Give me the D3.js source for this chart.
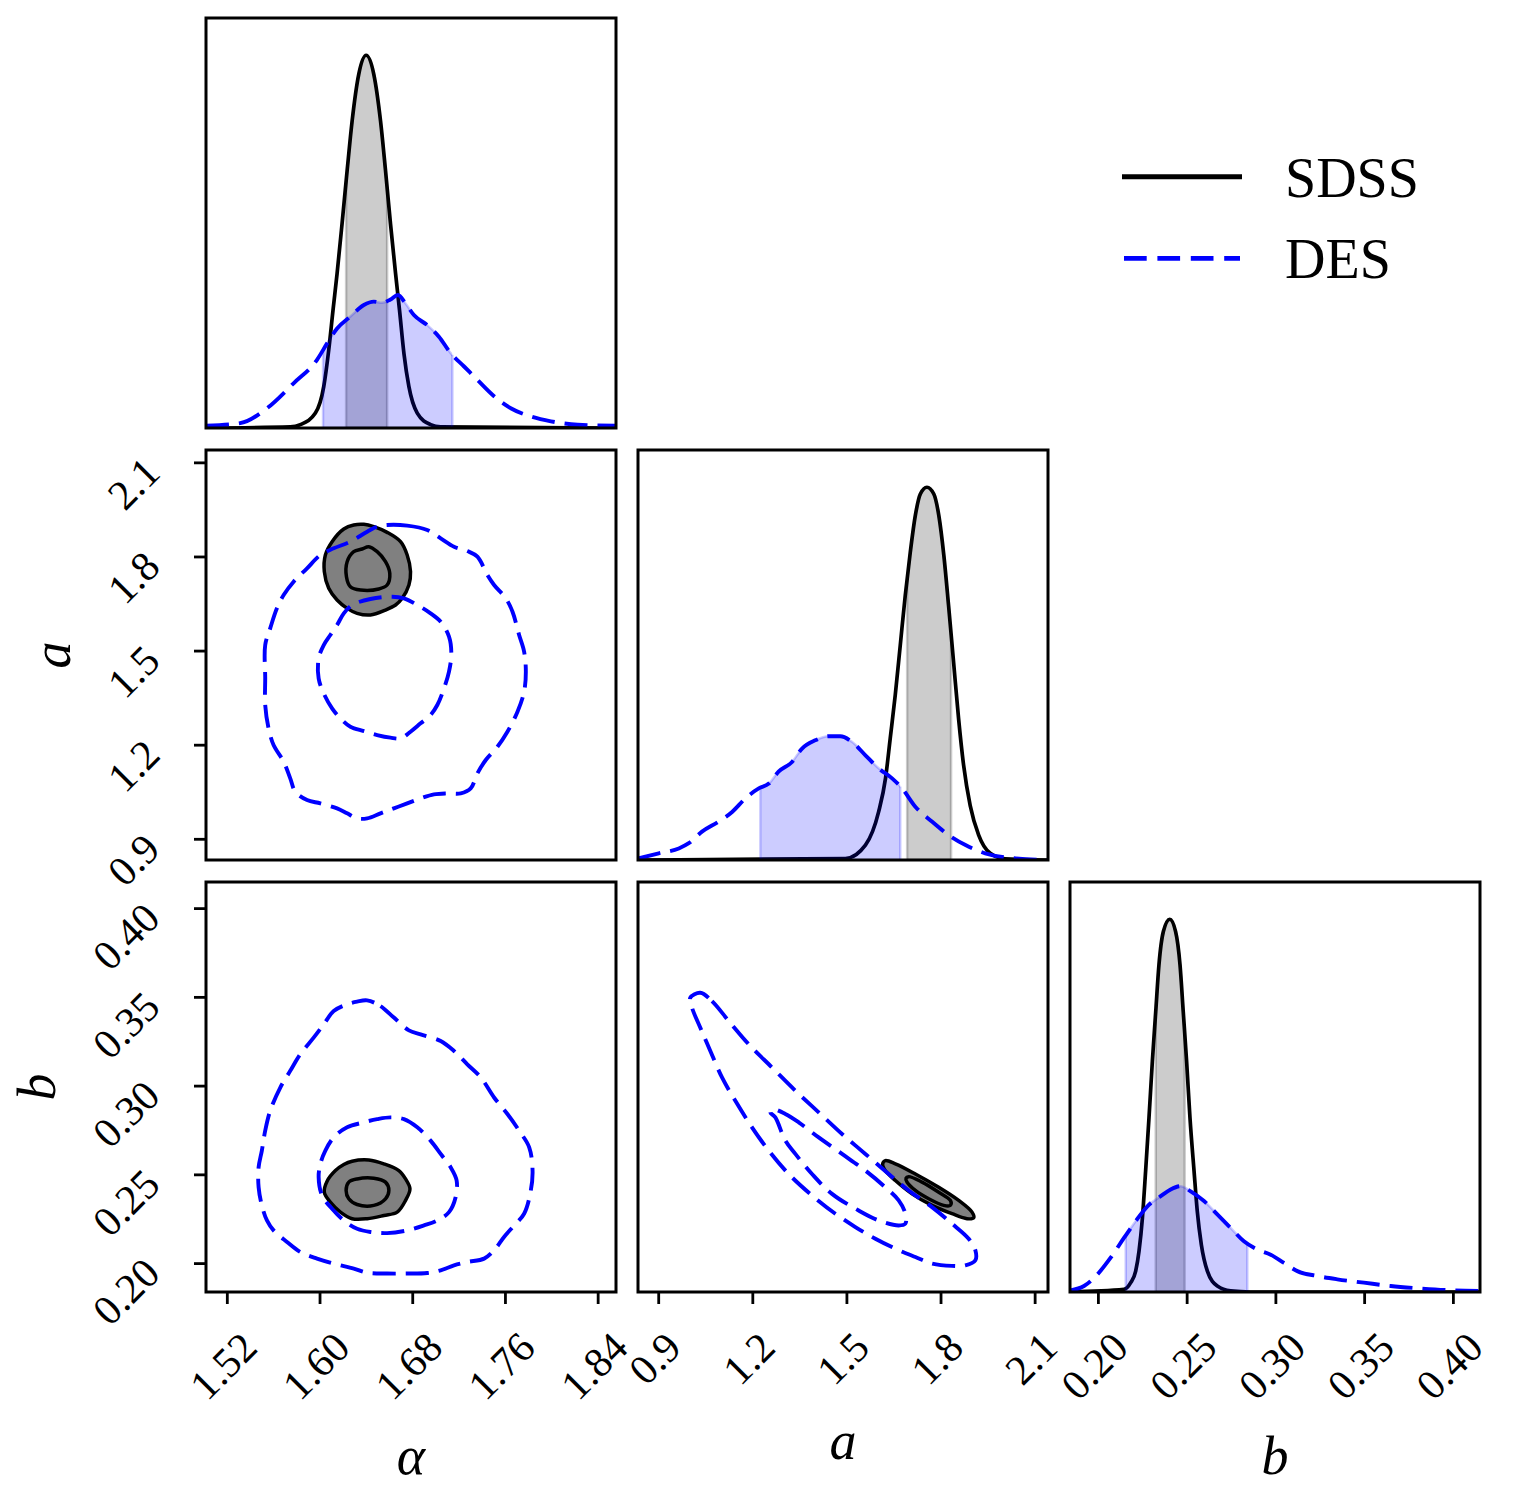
<!DOCTYPE html>
<html>
<head>
<meta charset="utf-8">
<script src="https://cdn.jsdelivr.net/npm/d3@7"></script>
<style>
  body { margin: 0; background: #fff; }
</style>
</head>
<body>
<svg id="corner"></svg>
<script>
// parameter ranges and ticks
var paramNames = ["α", "a", "b"];
var alphaRange = [1.5016, 1.8554];
var aRange = [0.834, 2.141];
var bRange = [0.184, 0.415];
var alphaTicks = [1.52, 1.60, 1.68, 1.76, 1.84];
var aTicks = [0.9, 1.2, 1.5, 1.8, 2.1];
var bTicks = [0.20, 0.25, 0.30, 0.35, 0.40];
var alphaTickLabels = ["1.52", "1.60", "1.68", "1.76", "1.84"];
var aTickLabels = ["0.9", "1.2", "1.5", "1.8", "2.1"];
var bTickLabels = ["0.20", "0.25", "0.30", "0.35", "0.40"];
var legendLabels = ["SDSS", "DES"];

// 1D marginals: [value, density relative to SDSS peak]
var sdssAlpha = [[1.5016,0],[1.5743,0.003],[1.5830,0.009],[1.5960,0.040],[1.6032,0.111],[1.6075,0.209],[1.6112,0.316],[1.6147,0.414],[1.6190,0.548],[1.6234,0.691],[1.6277,0.824],[1.6334,0.949],[1.6398,1.0],[1.6464,0.949],[1.6522,0.824],[1.6565,0.691],[1.6608,0.548],[1.6652,0.414],[1.6686,0.316],[1.6724,0.200],[1.6767,0.111],[1.6839,0.040],[1.6954,0.009],[1.7041,0.003],[1.8554,0]];
var desAlpha = [[1.5016,0.006],[1.5311,0.013],[1.5542,0.053],[1.5772,0.120],[1.5974,0.183],[1.6061,0.227],[1.6147,0.267],[1.6262,0.299],[1.6378,0.330],[1.6464,0.339],[1.6536,0.336],[1.6608,0.345],[1.6672,0.357],[1.6738,0.334],[1.6810,0.303],[1.6925,0.276],[1.7026,0.245],[1.7127,0.201],[1.7243,0.165],[1.7358,0.129],[1.7502,0.085],[1.7646,0.053],[1.7819,0.031],[1.7992,0.018],[1.8223,0.009],[1.8554,0.006]];
var sdssA = [[0.834,0],[1.495,0.004],[1.559,0.040],[1.601,0.129],[1.623,0.219],[1.638,0.326],[1.654,0.442],[1.670,0.576],[1.686,0.710],[1.702,0.826],[1.718,0.924],[1.734,0.982],[1.755,1.0],[1.777,0.982],[1.793,0.924],[1.809,0.817],[1.824,0.683],[1.840,0.531],[1.856,0.379],[1.872,0.254],[1.893,0.146],[1.920,0.067],[1.957,0.018],[2.005,0.003],[2.141,0]];
var desA = [[0.834,0.004],[0.900,0.018],[0.964,0.031],[0.996,0.045],[1.038,0.076],[1.091,0.103],[1.134,0.129],[1.176,0.165],[1.219,0.192],[1.251,0.205],[1.282,0.237],[1.325,0.263],[1.357,0.299],[1.399,0.321],[1.442,0.332],[1.479,0.332],[1.516,0.317],[1.559,0.281],[1.601,0.246],[1.644,0.219],[1.676,0.192],[1.718,0.143],[1.771,0.103],[1.824,0.067],[1.878,0.040],[1.941,0.018],[2.005,0.007],[2.141,0]];
var sdssB = [[0.184,0],[0.2144,0.007],[0.2182,0.025],[0.2210,0.056],[0.2229,0.110],[0.2248,0.199],[0.2266,0.324],[0.2285,0.467],[0.2304,0.619],[0.2323,0.752],[0.2341,0.877],[0.2366,0.967],[0.2402,1.0],[0.2435,0.967],[0.2460,0.877],[0.2478,0.752],[0.2497,0.619],[0.2516,0.467],[0.2539,0.324],[0.2557,0.217],[0.2580,0.127],[0.2614,0.056],[0.2670,0.016],[0.2745,0.003],[0.2858,0],[0.415,0]];
var desB = [[0.184,0.004],[0.1919,0.016],[0.1994,0.047],[0.2069,0.092],[0.2144,0.145],[0.2210,0.190],[0.2276,0.230],[0.2351,0.257],[0.2407,0.275],[0.2463,0.284],[0.2520,0.270],[0.2595,0.244],[0.2670,0.208],[0.2745,0.172],[0.2820,0.136],[0.2895,0.114],[0.2971,0.100],[0.3046,0.078],[0.3121,0.056],[0.3233,0.043],[0.3346,0.034],[0.3496,0.025],[0.3647,0.016],[0.3797,0.010],[0.3966,0.005],[0.415,0.003]];

// shaded 1-sigma bands under the marginals
var sdssAlphaBand = [1.6225, 1.6579];
var desAlphaBand = [1.6026, 1.7142];
var sdssABand = [1.692, 1.832];
var desABand = [1.224, 1.670];
var sdssBBand = [0.2323, 0.2486];
var desBBand = [0.2154, 0.2839];

// 2D contours (x param, y param)
var sdssAlphaAOuter = [[1.6378,1.9040],[1.6464,1.8966],[1.6579,1.8785],[1.6695,1.8488],[1.6752,1.8063],[1.6781,1.7531],[1.6767,1.7106],[1.6709,1.6681],[1.6652,1.6468],[1.6565,1.6309],[1.6435,1.6150],[1.6320,1.6203],[1.6234,1.6362],[1.6147,1.6628],[1.6075,1.7000],[1.6037,1.7531],[1.6046,1.8063],[1.6104,1.8488],[1.6205,1.8891],[1.6291,1.9019]];
var sdssAlphaAInner = [[1.6421,1.8328],[1.6493,1.8169],[1.6565,1.7850],[1.6602,1.7478],[1.6579,1.7106],[1.6507,1.6979],[1.6349,1.6947],[1.6262,1.7053],[1.6228,1.7372],[1.6234,1.7850],[1.6291,1.8169],[1.6363,1.8254]];
var desAlphaAOuter = [[1.6579,1.9019],[1.6752,1.8998],[1.6925,1.8860],[1.7041,1.8594],[1.7156,1.8328],[1.7271,1.8190],[1.7358,1.8009],[1.7444,1.7425],[1.7502,1.7106],[1.7603,1.6681],[1.7661,1.6256],[1.7718,1.5512],[1.7761,1.4981],[1.7776,1.4343],[1.7761,1.3705],[1.7704,1.3068],[1.7617,1.2430],[1.7531,1.1952],[1.7430,1.1527],[1.7358,1.1102],[1.7300,1.0624],[1.7214,1.0464],[1.7098,1.0464],[1.6983,1.0432],[1.6868,1.0305],[1.6752,1.0145],[1.6637,0.9986],[1.6522,0.9827],[1.6407,0.9667],[1.6320,0.9667],[1.6234,0.9827],[1.6147,0.9986],[1.6003,1.0145],[1.5888,1.0252],[1.5787,1.0517],[1.5743,1.0942],[1.5686,1.1474],[1.5599,1.2005],[1.5556,1.2536],[1.5527,1.3280],[1.5527,1.4131],[1.5527,1.5193],[1.5570,1.5725],[1.5628,1.6362],[1.5686,1.6787],[1.5772,1.7212],[1.5888,1.7637],[1.6003,1.8063],[1.6118,1.8275],[1.6262,1.8488],[1.6407,1.8806],[1.6493,1.8966]];
var desAlphaAInner = [[1.6435,1.6660],[1.6623,1.6734],[1.6724,1.6681],[1.6839,1.6468],[1.6954,1.6203],[1.7041,1.5937],[1.7113,1.5459],[1.7133,1.4928],[1.7113,1.4343],[1.7070,1.3812],[1.7012,1.3280],[1.6954,1.2962],[1.6868,1.2696],[1.6781,1.2430],[1.6695,1.2218],[1.6608,1.2239],[1.6493,1.2324],[1.6378,1.2451],[1.6262,1.2590],[1.6176,1.2855],[1.6104,1.3174],[1.6032,1.3652],[1.5988,1.4131],[1.5988,1.4768],[1.6032,1.5193],[1.6089,1.5512],[1.6147,1.5831],[1.6205,1.6203],[1.6277,1.6468]];

var sdssAlphaBOuter = [[1.6277,0.2577],[1.6421,0.2584],[1.6551,0.2562],[1.6680,0.2524],[1.6738,0.2477],[1.6776,0.2421],[1.6738,0.2356],[1.6666,0.2290],[1.6551,0.2271],[1.6407,0.2253],[1.6277,0.2253],[1.6176,0.2290],[1.6089,0.2346],[1.6037,0.2402],[1.6061,0.2464],[1.6133,0.2524],[1.6205,0.2558]];
var sdssAlphaBInner = [[1.6320,0.2477],[1.6464,0.2481],[1.6565,0.2459],[1.6594,0.2412],[1.6565,0.2365],[1.6464,0.2328],[1.6320,0.2333],[1.6248,0.2365],[1.6225,0.2412],[1.6248,0.2459]];
var desAlphaBOuter = [[1.6407,0.3483],[1.6522,0.3451],[1.6637,0.3386],[1.6767,0.3314],[1.6868,0.3292],[1.7041,0.3254],[1.7156,0.3198],[1.7271,0.3123],[1.7387,0.3049],[1.7502,0.2936],[1.7617,0.2843],[1.7718,0.2749],[1.7805,0.2655],[1.7834,0.2524],[1.7819,0.2412],[1.7761,0.2281],[1.7675,0.2215],[1.7588,0.2150],[1.7502,0.2075],[1.7416,0.2028],[1.7271,0.2009],[1.7156,0.1990],[1.7041,0.1962],[1.6925,0.1947],[1.6752,0.1944],[1.6579,0.1944],[1.6407,0.1949],[1.6291,0.1972],[1.6118,0.2000],[1.5974,0.2028],[1.5830,0.2065],[1.5715,0.2122],[1.5599,0.2187],[1.5542,0.2243],[1.5498,0.2328],[1.5470,0.2430],[1.5470,0.2543],[1.5498,0.2637],[1.5527,0.2749],[1.5570,0.2861],[1.5657,0.2992],[1.5743,0.3086],[1.5830,0.3180],[1.5945,0.3273],[1.6032,0.3348],[1.6118,0.3423],[1.6234,0.3461],[1.6320,0.3476]];
var desAlphaBInner = [[1.6608,0.2824],[1.6724,0.2814],[1.6839,0.2768],[1.6954,0.2693],[1.7041,0.2618],[1.7127,0.2543],[1.7179,0.2468],[1.7170,0.2374],[1.7113,0.2290],[1.7012,0.2243],[1.6897,0.2215],[1.6752,0.2187],[1.6579,0.2172],[1.6435,0.2178],[1.6320,0.2196],[1.6205,0.2243],[1.6104,0.2309],[1.6017,0.2384],[1.5988,0.2487],[1.6003,0.2562],[1.6046,0.2637],[1.6118,0.2711],[1.6234,0.2768],[1.6378,0.2796],[1.6493,0.2814]];

var sdssABOuter = [[1.6225,0.2580],[1.6544,0.2562],[1.7182,0.2505],[1.7926,0.2430],[1.8563,0.2356],[1.8988,0.2290],[1.9041,0.2258],[1.8829,0.2253],[1.8351,0.2281],[1.7713,0.2328],[1.7075,0.2393],[1.6544,0.2468],[1.6225,0.2524],[1.6140,0.2562]];
var sdssABInner = [[1.6969,0.2490],[1.7394,0.2459],[1.7926,0.2402],[1.8298,0.2356],[1.8298,0.2328],[1.8085,0.2328],[1.7607,0.2365],[1.7182,0.2412],[1.6916,0.2459],[1.6884,0.2481]];
var desABOuter = [[1.0327,0.3526],[1.0699,0.3479],[1.1231,0.3367],[1.1868,0.3236],[1.2612,0.3105],[1.3356,0.2974],[1.4100,0.2852],[1.4844,0.2730],[1.5588,0.2618],[1.6331,0.2505],[1.6969,0.2412],[1.7713,0.2318],[1.8351,0.2225],[1.8882,0.2140],[1.9095,0.2075],[1.9095,0.2019],[1.8776,0.1990],[1.8351,0.1987],[1.7713,0.2000],[1.7182,0.2037],[1.6544,0.2084],[1.5906,0.2140],[1.5269,0.2206],[1.4631,0.2281],[1.3887,0.2384],[1.3143,0.2505],[1.2506,0.2637],[1.1974,0.2768],[1.1443,0.2917],[1.1018,0.3049],[1.0646,0.3198],[1.0327,0.3329],[1.0062,0.3442],[1.0008,0.3498]];
var desABInner = [[1.2612,0.2871],[1.3037,0.2843],[1.3462,0.2796],[1.4100,0.2711],[1.4844,0.2618],[1.5588,0.2524],[1.6225,0.2430],[1.6650,0.2356],[1.6863,0.2281],[1.6863,0.2225],[1.6650,0.2215],[1.6013,0.2243],[1.5375,0.2299],[1.4525,0.2393],[1.3887,0.2505],[1.3356,0.2618],[1.3037,0.2693],[1.2718,0.2824],[1.2559,0.2852]];

var size = 410, gap = 22, left0 = 206, top0 = 18;
var blue = "#0000ff";
var dash = "23,10";
var serif = "'Liberation Serif', 'DejaVu Serif', 'Noto Serif', 'Tinos', 'Nimbus Roman', 'FreeSerif', 'Times New Roman', Times, serif";

var svg = d3.select("#corner").attr("width", 1515).attr("height", 1498)
  .style("font-family", serif);
svg.append("rect").attr("width", 1515).attr("height", 1498).attr("fill", "#fff");
var defs = svg.append("defs");

var ranges = [alphaRange, aRange, bRange];
var ticks = [alphaTicks, aTicks, bTicks];
var tickLabels = [alphaTickLabels, aTickLabels, bTickLabels];
var marg = [[sdssAlpha, desAlpha], [sdssA, desA], [sdssB, desB]];
var bands = [[sdssAlphaBand, desAlphaBand], [sdssABand, desABand], [sdssBBand, desBBand]];
var conts = {
  "1-0": [sdssAlphaAOuter, sdssAlphaAInner, desAlphaAOuter, desAlphaAInner],
  "2-0": [sdssAlphaBOuter, sdssAlphaBInner, desAlphaBOuter, desAlphaBInner],
  "2-1": [sdssABOuter, sdssABInner, desABOuter, desABInner]
};

var xs = ranges.map(function (r) { return d3.scaleLinear().domain(r).range([0, size]); });
var ys = ranges.map(function (r) { return d3.scaleLinear().domain(r).range([size, 0]); });
var hs = d3.scaleLinear().domain([0, 1.1]).range([size, 0]);

function interp(data, v) {
  for (var i = 1; i < data.length; i++) {
    if (data[i][0] >= v) {
      var t = (v - data[i-1][0]) / (data[i][0] - data[i-1][0]);
      return data[i-1][1] + t * (data[i][1] - data[i-1][1]);
    }
  }
  return 0;
}

function addText(g, size) {
  return g.append("text").attr("font-family", serif).attr("font-size", size).attr("fill", "#000");
}

function drawBand(g, data, lim, color, x, id) {
  defs.append("clipPath").attr("id", id)
    .append("rect").attr("x", x(lim[0])).attr("y", 0)
    .attr("width", x(lim[1]) - x(lim[0])).attr("height", size);
  var area = d3.area().x(function (d) { return x(d[0]); })
    .y0(size).y1(function (d) { return hs(d[1]); }).curve(d3.curveMonotoneX);
  g.append("path").datum(data).attr("d", area)
    .attr("clip-path", "url(#" + id + ")")
    .attr("fill", color).attr("fill-opacity", 0.2)
    .attr("stroke", color).attr("stroke-opacity", 0.2).attr("stroke-width", 2.5);
  lim.forEach(function (v) {
    g.append("line").attr("x1", x(v)).attr("x2", x(v))
      .attr("y1", size).attr("y2", hs(interp(data, v)))
      .attr("stroke", color).attr("stroke-opacity", 0.2).attr("stroke-width", 2.5);
  });
}

var contourLine = d3.line().curve(d3.curveCatmullRomClosed.alpha(0.5));

for (var r = 0; r < 3; r++) {
  for (var c = 0; c <= r; c++) {
    var g = svg.append("g")
      .attr("transform", "translate(" + (left0 + c * (size + gap)) + "," + (top0 + r * (size + gap)) + ")");
    var clipId = "clip" + r + c;
    defs.append("clipPath").attr("id", clipId)
      .append("rect").attr("width", size).attr("height", size);
    var body = g.append("g").attr("clip-path", "url(#" + clipId + ")");
    var x = xs[c];

    if (r == c) {
      var line = d3.line().x(function (d) { return x(d[0]); })
        .y(function (d) { return hs(d[1]); }).curve(d3.curveMonotoneX);
      drawBand(body, marg[c][0], bands[c][0], "#000", x, "bs" + c);
      body.append("path").datum(marg[c][0]).attr("d", line)
        .attr("fill", "none").attr("stroke", "#000").attr("stroke-width", 3.7);
      drawBand(body, marg[c][1], bands[c][1], blue, x, "bd" + c);
      body.append("path").datum(marg[c][1]).attr("d", line)
        .attr("fill", "none").attr("stroke", blue).attr("stroke-width", 3.9)
        .attr("stroke-dasharray", dash);
    } else {
      var y = ys[r];
      var cs = conts[r + "-" + c].map(function (pts) {
        return pts.map(function (p) { return [x(p[0]), y(p[1])]; });
      });
      body.append("path").attr("d", contourLine(cs[0]))
        .attr("fill", "#808080").attr("stroke", "#000").attr("stroke-width", 3.5);
      body.append("path").attr("d", contourLine(cs[1]))
        .attr("fill", "none").attr("stroke", "#000").attr("stroke-width", 3.5);
      [cs[2], cs[3]].forEach(function (pts) {
        body.append("path").attr("d", contourLine(pts))
          .attr("fill", "none").attr("stroke", blue).attr("stroke-width", 3.9)
          .attr("stroke-dasharray", dash);
      });
    }

    g.append("rect").attr("width", size).attr("height", size)
      .attr("fill", "none").attr("stroke", "#000").attr("stroke-width", 3);

    // bottom axis only on last row
    if (r == 2) {
      var maxL = 0;
      ticks[c].forEach(function (t, i) {
        var tx = x(t);
        g.append("line").attr("x1", tx).attr("x2", tx).attr("y1", size).attr("y2", size + 12)
          .attr("stroke", "#000").attr("stroke-width", 2.8);
        var lab = addText(g, 42).attr("text-anchor", "end").text(tickLabels[c][i]);
        var L = lab.node().getComputedTextLength();
        maxL = Math.max(maxL, L);
        var px = tx + L / (2 * Math.SQRT2) + 6, py = size + 58;
        lab.attr("transform", "translate(" + px + "," + py + ") rotate(-45)");
      });
      addText(g, 54).attr("font-style", "italic")
        .attr("text-anchor", "middle")
        .attr("x", size / 2).attr("y", size + 130 + maxL / Math.SQRT2)
        .text(paramNames[c]);
    }
    // left axis only on first column, below the diagonal
    if (c == 0 && r > 0) {
      var maxLy = 0;
      ticks[r].forEach(function (t, i) {
        var ty = ys[r](t);
        g.append("line").attr("x1", -12).attr("x2", 0).attr("y1", ty).attr("y2", ty)
          .attr("stroke", "#000").attr("stroke-width", 2.8);
        var lab = addText(g, 42).attr("text-anchor", "end")
          .attr("transform", "translate(-44," + (ty + 12) + ") rotate(-45)")
          .text(tickLabels[r][i]);
        maxLy = Math.max(maxLy, lab.node().getComputedTextLength());
      });
      var lx = -99 - maxLy / Math.SQRT2;
      addText(g, 54).attr("font-style", "italic")
        .attr("text-anchor", "middle")
        .attr("transform", "translate(" + lx + "," + (size / 2) + ") rotate(-90)")
        .text(paramNames[r]);
    }
  }
}

// legend
var leg = svg.append("g");
leg.append("line").attr("x1", 1122).attr("x2", 1242).attr("y1", 176.7).attr("y2", 176.7)
  .attr("stroke", "#000").attr("stroke-width", 5);
leg.append("line").attr("x1", 1124).attr("x2", 1240).attr("y1", 258.3).attr("y2", 258.3)
  .attr("stroke", blue).attr("stroke-width", 4.7).attr("stroke-dasharray", "22.7,10.7");
legendLabels.forEach(function (s, i) {
  addText(leg, 56).attr("x", 1285).attr("y", 196.7 + i * 81.6).text(s);
});
</script>
</body>
</html>
